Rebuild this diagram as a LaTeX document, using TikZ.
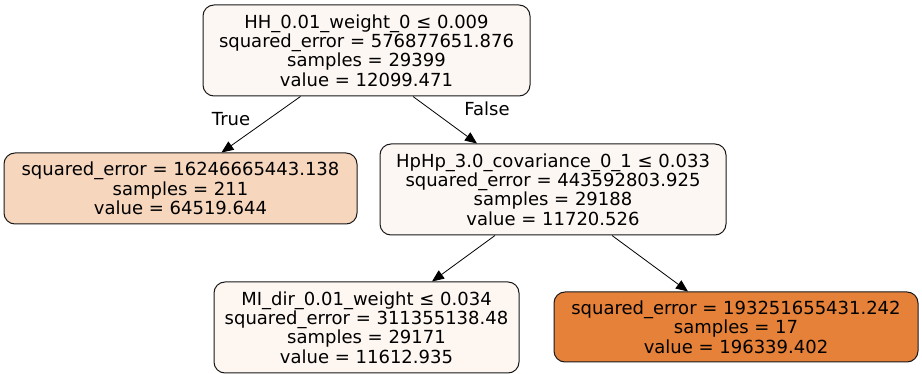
\documentclass[tikz,border=0pt]{standalone}
\usepackage{fontspec}
\setmainfont{DejaVu Sans}
\usetikzlibrary{arrows.meta}
\definecolor{rootfill}{RGB}{253,247,243}
\definecolor{leafA}{RGB}{246,214,189}
\definecolor{leafB}{RGB}{229,129,57}
\definecolor{innerfill}{RGB}{253,246,241}
\begin{document}
\begin{tikzpicture}[x=1pt,y=-1pt,
  treenode/.style={draw=black!90, line width=1pt, rounded corners=11pt, align=center,
    inner sep=0pt, font=\fontsize{18}{19.4}\selectfont},
  edge/.style={draw=black, line width=0.8pt, -{Triangle[length=12pt,width=10pt]}},
  elabel/.style={font=\fontsize{18}{19.4}\selectfont, inner sep=0pt}]
\useasboundingbox (0,0) rectangle (922,374);
\fill[white] (0,0) rectangle (922,374);
\node[treenode, fill=rootfill, minimum width=327pt, minimum height=91pt] (root) at (366.5,50.5)
  {HH\_0.01\_weight\_0 ≤ 0.009\\squared\_error = 576877651.876\\samples = 29399\\value = 12099.471};
\node[treenode, fill=leafA, minimum width=353pt, minimum height=71pt] (left) at (180.5,188.5)
  {squared\_error = 16246665443.138\\samples = 211\\value = 64519.644};
\node[treenode, fill=rootfill, minimum width=346pt, minimum height=91pt] (hp) at (553,189.5)
  {HpHp\_3.0\_covariance\_0\_1 ≤ 0.033\\squared\_error = 443592803.925\\samples = 29188\\value = 11720.526};
\node[treenode, fill=innerfill, minimum width=305pt, minimum height=91pt] (mi) at (366.5,327.5)
  {MI\_dir\_0.01\_weight ≤ 0.034\\squared\_error = 311355138.48\\samples = 29171\\value = 11612.935};
\node[treenode, fill=leafB, minimum width=364pt, minimum height=70pt] (orange) at (736,327)
  {squared\_error = 193251655431.242\\samples = 17\\value = 196339.402};
\draw[edge] ([xshift=-66pt]root.south) -- ([xshift=41pt]left.north);
\draw[edge] ([xshift=46.5pt]root.south) -- ([xshift=-76pt]hp.north);
\draw[edge] ([xshift=-58pt]hp.south) -- ([xshift=65.5pt]mi.north);
\draw[edge] ([xshift=59pt]hp.south) -- ([xshift=-48pt]orange.north);
\node[elabel] (ltrue) at (231,119) {True};
\node[elabel] (lfalse) at (487,108.5) {False};
\end{tikzpicture}
\end{document}
